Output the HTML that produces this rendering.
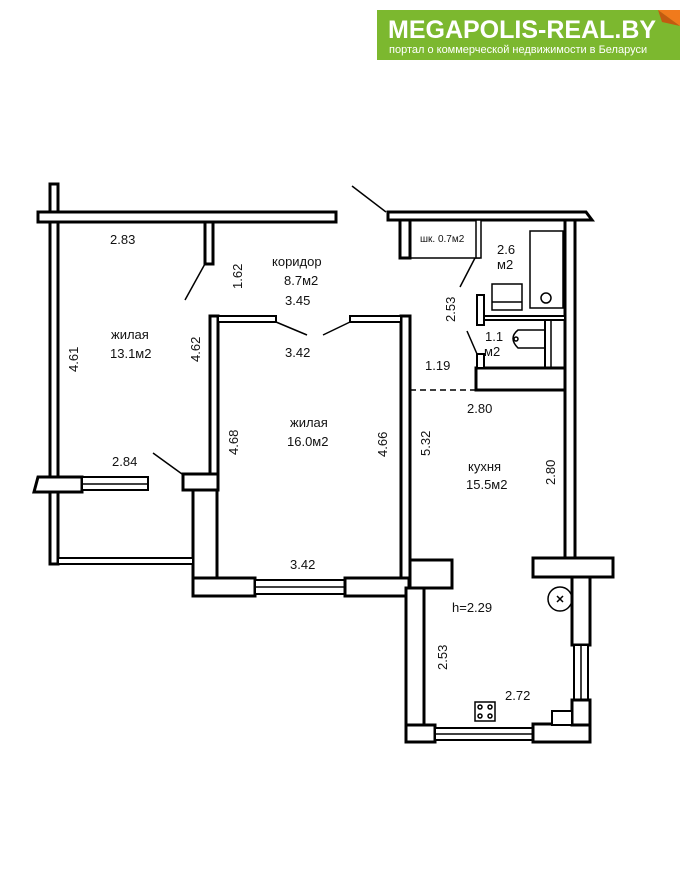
<!DOCTYPE html>
<html><head><meta charset="utf-8"><style>
html,body{margin:0;padding:0;background:#fff;width:688px;height:876px;overflow:hidden}
svg{display:block}
text{font-family:"Liberation Sans","DejaVu Sans",sans-serif;fill:#111;font-size:13px}
</style></head><body>
<svg width="688" height="876" viewBox="0 0 688 876">
<!-- logo -->
<rect x="377" y="10" width="303" height="50" fill="#7cb82f"/>
<polygon points="658,10 680,10 680,26" fill="#f07a1c"/>
<polygon points="658,10 680,26 662,22" fill="#c45a10"/>
<text x="388" y="38" style="font-size:25px;font-weight:bold;fill:#fff">MEGAPOLIS-REAL.BY</text>
<text x="389" y="53" style="font-size:11px;fill:#fff">портал о коммерческой недвижимости в Беларуси</text>

<g fill="#fff" stroke="#000" stroke-width="3">
<!-- left part -->
<rect x="50" y="184" width="8" height="380"/>
<rect x="38" y="212" width="298" height="10"/>
<rect x="205" y="222" width="8" height="42"/>
<rect x="210" y="316" width="8" height="158"/>
<rect x="183" y="474" width="35" height="16"/>
<rect x="193" y="490" width="24" height="106"/>
<polygon points="38,477 82,477 82,492 34,492"/>
<rect x="82" y="477" width="66" height="13" stroke-width="2"/>
<line x1="82" y1="484" x2="148" y2="484" stroke-width="1.5"/>
<rect x="58" y="558" width="135" height="6" stroke-width="2"/>
<!-- middle bottom -->
<rect x="193" y="578" width="62" height="18"/>
<rect x="255" y="580" width="90" height="14" stroke-width="2"/>
<line x1="255" y1="587" x2="345" y2="587" stroke-width="1.5"/>
<rect x="345" y="578" width="64" height="18"/>
<rect x="401" y="316" width="9" height="262"/>
<!-- middle top window-like door segments -->
<rect x="218" y="316" width="58" height="6" stroke-width="2"/>
<rect x="350" y="316" width="51" height="6" stroke-width="2"/>
<!-- kitchen -->
<rect x="410" y="560" width="42" height="28"/>
<rect x="406" y="588" width="18" height="154"/>
<rect x="406" y="725" width="29" height="17"/>
<rect x="435" y="728" width="98" height="12" stroke-width="2"/>
<line x1="435" y1="734" x2="533" y2="734" stroke-width="1.5"/>
<rect x="533" y="724" width="57" height="18"/>
<rect x="533" y="558" width="80" height="19"/>
<rect x="572" y="577" width="18" height="68"/>
<rect x="574" y="645" width="14" height="55" stroke-width="2"/>
<line x1="581" y1="645" x2="581" y2="700" stroke-width="1.5"/>
<rect x="572" y="700" width="18" height="25"/>
<rect x="552" y="711" width="20" height="14" stroke-width="2"/>
<!-- right column -->
<rect x="565" y="218" width="10" height="340"/>
<polygon points="388,212 586,212 592,220 388,220"/>
<rect x="400" y="220" width="10" height="38"/>
<rect x="476" y="368" width="89" height="22"/>
<rect x="477" y="295" width="7" height="30" stroke-width="2"/>
<rect x="477" y="354" width="7" height="14" stroke-width="2"/>
<rect x="484" y="316" width="81" height="4" stroke-width="2"/>
</g>
<g fill="none" stroke="#000" stroke-width="1.5">
<!-- closet -->
<line x1="410" y1="258" x2="480" y2="258"/>
<rect x="476" y="220" width="5" height="38" fill="#fff"/>
<!-- bath -->
<rect x="530" y="231" width="33" height="77"/>
<circle cx="546" cy="298" r="5"/>
<rect x="492" y="284" width="30" height="26"/>
<line x1="492" y1="302" x2="522" y2="302"/>
<line x1="545" y1="320" x2="545" y2="368" stroke-width="2"/>
<line x1="551" y1="320" x2="551" y2="368"/>
<path d="M544,330 L518,330 Q508,338 518,348 L544,348"/>
<circle cx="516" cy="339" r="2"/>
<!-- doors -->
<line x1="352" y1="186" x2="386" y2="212"/>
<line x1="206" y1="262" x2="185" y2="300"/>
<line x1="276" y1="322" x2="307" y2="335"/>
<line x1="350" y1="322" x2="323" y2="335"/>
<line x1="153" y1="453" x2="182" y2="474"/>
<line x1="475" y1="258" x2="460" y2="287"/>
<line x1="467" y1="331" x2="477" y2="354"/>
<line x1="410" y1="390" x2="476" y2="390" stroke-dasharray="6,4"/>
<!-- stove/vent -->
<circle cx="560" cy="599" r="12"/>
<line x1="557" y1="596" x2="563" y2="602"/><line x1="563" y1="596" x2="557" y2="602"/>
<rect x="475" y="702" width="20" height="19"/>
<circle cx="480" cy="707" r="2"/><circle cx="490" cy="707" r="2"/>
<circle cx="480" cy="716" r="2"/><circle cx="490" cy="716" r="2"/>
</g>
<!-- labels -->
<text x="110" y="244">2.83</text>
<text x="272" y="266">коридор</text>
<text x="284" y="285">8.7м2</text>
<text x="285" y="305">3.45</text>
<text transform="translate(242,289) rotate(-90)">1.62</text>
<text transform="translate(78,372) rotate(-90)">4.61</text>
<text x="111" y="339">жилая</text>
<text x="110" y="358">13.1м2</text>
<text transform="translate(200,362) rotate(-90)">4.62</text>
<text x="285" y="357">3.42</text>
<text x="290" y="427">жилая</text>
<text x="287" y="446">16.0м2</text>
<text transform="translate(238,455) rotate(-90)">4.68</text>
<text transform="translate(387,457) rotate(-90)">4.66</text>
<text x="112" y="466">2.84</text>
<text x="290" y="569">3.42</text>
<text transform="translate(430,456) rotate(-90)">5.32</text>
<text x="425" y="370">1.19</text>
<text x="467" y="413">2.80</text>
<text x="468" y="471">кухня</text>
<text x="466" y="489">15.5м2</text>
<text transform="translate(555,485) rotate(-90)">2.80</text>
<text x="452" y="612">h=2.29</text>
<text transform="translate(447,670) rotate(-90)">2.53</text>
<text x="505" y="700">2.72</text>
<text transform="translate(455,322) rotate(-90)">2.53</text>
<text x="485" y="341">1.1</text>
<text x="484" y="356">м2</text>
<text x="497" y="254">2.6</text>
<text x="497" y="269">м2</text>
<text x="420" y="242" style="font-size:10px">шк. 0.7м2</text>
</svg>
</body></html>
